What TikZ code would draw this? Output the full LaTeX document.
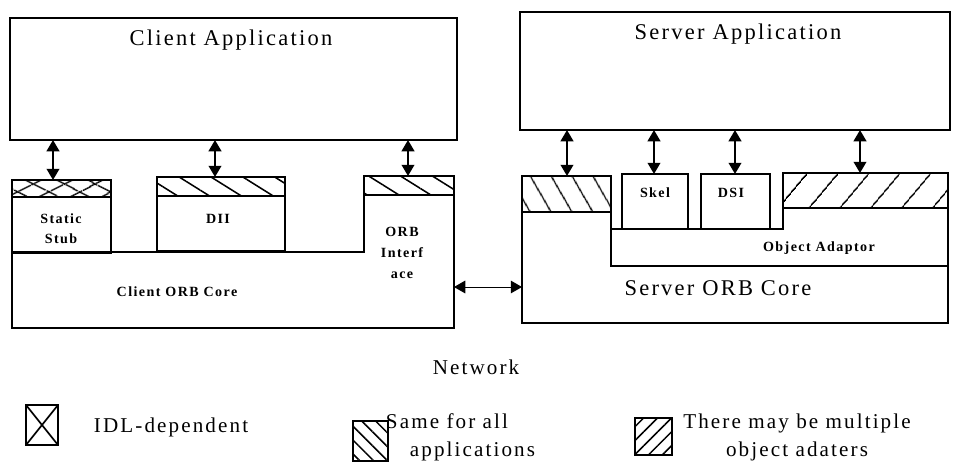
\documentclass[tikz,border=0pt]{standalone}
\usepackage{fontspec}
\setmainfont{Liberation Serif}[LetterSpace=10]
\usetikzlibrary{arrows.meta,patterns.meta,fit}

\tikzset{
  box/.style={draw, line width=1.2pt, inner sep=0pt, outer sep=0pt},
  outline/.style={line width=1.2pt},
  bigtxt/.style={font=\fontsize{16}{18}\selectfont},
  midtxt/.style={font=\fontsize{15}{20}\selectfont, align=center},
  smalltxt/.style={font=\fontsize{10}{14}\selectfont\bfseries, align=center},
  link/.style={<->, line width=1.4pt},
  netlink/.style={<->, line width=0.7pt},
  nwhatch/.style={pattern={Lines[angle=-32,distance=12pt,line width=1.1pt]}},
  steephatch/.style={pattern={Lines[angle=-60,distance=13pt,line width=1.1pt]}},
  nehatch/.style={pattern={Lines[angle=50,distance=17pt,line width=1.1pt]}},
  crossA/.style={pattern={Lines[angle=27,distance=10.5pt,line width=1.1pt]}},
  crossB/.style={pattern={Lines[angle=-27,distance=10.5pt,line width=1.1pt]}}
}

\begin{document}
\begin{tikzpicture}[x=0.025cm, y=-0.025cm, >={Triangle[length=8pt,width=9pt]}]
  \useasboundingbox (0,0) rectangle (953,463);
  \fill[white] (0,0) rectangle (953,463);

  % applications
  \node[box, fit={(10,18) (457,140)}] (capp) {};
  \node[bigtxt] (capptxt) at (231,40) {Client Application};
  \node[box, fit={(520,12) (950,130)}] (sapp) {};
  \node[bigtxt] (sapptxt) at (738,34) {Server Application};

  % client side
  \fill[crossA] (12,180) rectangle (111,197);
  \fill[crossB] (12,180) rectangle (111,197);
  \node[box, fit={(12,180) (111,253)}] (stat) {};
  \draw[outline] (12,197) -- (111,197);
  \node[smalltxt] (stattxt) at (61,229) {Static\\Stub};

  \fill[nwhatch] (157,177) rectangle (285,196);
  \node[box, fit={(157,177) (285,251)}] (dii) {};
  \draw[outline] (157,196) -- (285,196);
  \node[smalltxt] (diitxt) at (218,219) {DII};

  \fill[nwhatch] (364,176) rectangle (454,195);
  \draw[outline] (12,252) -- (364,252) -- (364,176) -- (454,176) -- (454,328) -- (12,328) -- cycle;
  \draw[outline] (364,195) -- (454,195);
  \coordinate (oif) at (408,176);
  \node[smalltxt, font=\fontsize{10}{15}\selectfont\bfseries] (oiftxt) at (402,253) {ORB\\Interf\\ace};
  \node[smalltxt] (ccoretxt) at (177,292) {Client ORB Core};

  % server side
  \fill[steephatch] (522,176) rectangle (611,212);
  \draw[outline] (522,176) -- (611,176) -- (611,266) -- (948,266) -- (948,323) -- (522,323) -- cycle;
  \draw[outline] (522,212) -- (611,212);
  \coordinate (slh) at (567,176);

  \fill[nehatch] (783,173) rectangle (948,208);
  \draw[outline] (611,229) -- (783,229) -- (783,173) -- (948,173) -- (948,266);
  \draw[outline] (783,208) -- (948,208);
  \coordinate (srh) at (860,173);

  \node[box, fit={(622,174) (688,229)}] (skel) {};
  \node[smalltxt] (skeltxt) at (655,193) {Skel};
  \node[box, fit={(701,174) (770,229)}] (dsi) {};
  \node[smalltxt] (dsitxt) at (731,193) {DSI};
  \node[smalltxt] (oatxt) at (819,248) {Object Adaptor};
  \node[bigtxt] (scoretxt) at (718,288) {Server ORB Core};

  % application <-> stubs
  \draw[link] (53,0 |- capp.south) -- (53,0 |- stat.north);
  \draw[link] (215,0 |- capp.south) -- (215,0 |- dii.north);
  \draw[link] (oif |- capp.south) -- (oif);
  \draw[link] (slh |- sapp.south) -- (slh);
  \draw[link] (654,0 |- sapp.south) -- (654,0 |- skel.north);
  \draw[link] (735,0 |- sapp.south) -- (735,0 |- dsi.north);
  \draw[link] (srh |- sapp.south) -- (srh);

  % network
  \coordinate (ccore) at (454,287);
  \coordinate (score) at (522,287);
  \draw[netlink] (ccore) -- (score);
  \node[midtxt] (nettxt) at (476,367) {Network};

  % legend
  \node[box, fit={(26,405) (58,445)}] (lgidl) {};
  \draw[outline] (lgidl.north west) -- (lgidl.south east);
  \draw[outline] (lgidl.north east) -- (lgidl.south west);
  \node[midtxt, anchor=west] (lgidltxt) at (89,427) {IDL-dependent};

  \fill[pattern={Lines[angle=-45,distance=7pt,line width=1.1pt]}] (353,421) rectangle (388,461);
  \node[box, fit={(353,421) (388,461)}] (lgsame) {};
  \node[midtxt, align=left, anchor=west] (lgsametxt) at (381,437) {Same for all\\\hspace{17pt}applications};

  \fill[pattern={Lines[angle=45,distance=7pt,line width=1.1pt]}] (635,418) rectangle (672,455);
  \node[box, fit={(635,418) (672,455)}] (lgmult) {};
  \node[midtxt] (lgmulttxt) at (797,437) {There may be multiple\\object adaters};
\end{tikzpicture}
\end{document}
